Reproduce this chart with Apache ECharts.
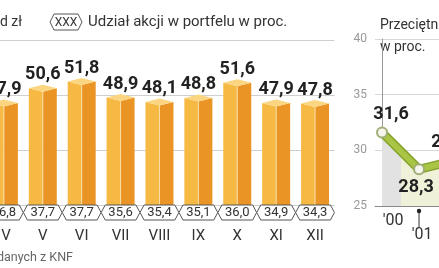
<!DOCTYPE html>
<html><head><meta charset="utf-8">
<script src="https://cdn.jsdelivr.net/npm/echarts@6/dist/echarts.min.js"></script>
<style>html,body{margin:0;padding:0;background:#fff}#c{width:439px;height:268px}</style>
</head><body><div id="c"></div>
<script>
// Left chart: monthly data
var months = ['IV','V','VI','VII','VIII','IX','X','XI','XII'];
var assets = [47.9, 50.6, 51.8, 48.9, 48.1, 48.8, 51.6, 47.9, 47.8];
var shares = [36.8, 37.7, 37.7, 35.6, 35.4, 35.1, 36.0, 34.9, 34.3];
// Right chart: yearly data
var years = ["'00", "'01", "'02"];
var yearVals = [31.6, 28.3, 29.1];
var leftTicks = [30, 40, 50, 60];
var rightTicks = [25, 30, 35, 40];

function fmt(v){ return v.toFixed(1).replace('.', ','); }
var FONT = 'Roboto, "Liberation Sans", sans-serif';

function hexPath(cx, cy, hw, hh, tip){
  return [[cx-hw, cy],[cx-hw+tip, cy-hh],[cx+hw-tip, cy-hh],[cx+hw, cy],[cx+hw-tip, cy+hh],[cx-hw+tip, cy+hh]];
}

var chart = echarts.init(document.getElementById('c'), null, {renderer:'canvas'});

var option = {
  animation: false,
  grid: [
    {left: 0, top: 40, width: 334.5, height: 165},
    {left: 375, top: 39, width: 64, height: 167}
  ],
  xAxis: [
    {gridIndex:0, type:'value', min:-0.1, max:8.5,
     axisLine:{show:false}, axisTick:{show:false}, axisLabel:{show:false}, splitLine:{show:false}},
    {gridIndex:1, type:'value', min:-0.19, max:1.54,
     axisLine:{show:true, lineStyle:{color:'#888', width:1}}, axisTick:{show:false},
     axisLabel:{show:false}, splitLine:{show:false}}
  ],
  yAxis: [
    {gridIndex:0, type:'value', min:leftTicks[0], max:leftTicks[leftTicks.length-1], interval:10,
     axisLine:{show:false}, axisTick:{show:false}, axisLabel:{show:false},
     splitLine:{lineStyle:{color:'#cfcfcf', width:1}}},
    {gridIndex:1, type:'value', min:rightTicks[0], max:rightTicks[rightTicks.length-1], interval:5,
     axisLine:{show:true, lineStyle:{color:'#999', width:1}}, axisTick:{show:false},
     axisLabel:{color:'#999', fontSize:12, fontFamily:FONT, margin:8},
     splitLine:{lineStyle:{color:'#d8d8d8', width:1}}}
  ],
  series: [
    // 3D bars
    {type:'custom', xAxisIndex:0, yAxisIndex:0, clip:false,
     data: assets.map(function(v,i){return [i, v];}),
     renderItem: function(params, api){
       var top = api.coord([api.value(0), api.value(1)]);
       var base = api.coord([api.value(0), leftTicks[0]]);
       var xm = top[0], yv = top[1], yb = base[1] + 1, hw = 14, d = 3.5;
       return {type:'group', children:[
         {type:'polygon', shape:{points:[[xm-hw, yv-d],[xm, yv],[xm, yb],[xm-hw, yb]]}, style:{fill:'#f6b944'}},
         {type:'polygon', shape:{points:[[xm, yv],[xm+hw, yv-d],[xm+hw, yb],[xm, yb]]}, style:{fill:'#ea9426'}},
         {type:'line', shape:{x1:xm, y1:yv, x2:xm, y2:yb}, style:{stroke:'#fbe0a8', lineWidth:1}},
         {type:'polygon', shape:{points:[[xm-hw, yv-d],[xm, yv-2*d],[xm+hw, yv-d],[xm, yv]]}, style:{fill:'#fbd57f'}},
         {type:'text', x: xm, y: yv - 2*d - 1, style:{text: fmt(api.value(1)), fill:'#222', font:'bold 18px ' + FONT, align:'center', verticalAlign:'bottom'}}
       ]};
     }},
    // hex labels for share + month labels
    {type:'custom', xAxisIndex:0, yAxisIndex:0, z:5, clip:false,
     data: shares.map(function(v,i){return [i, v];}),
     renderItem: function(params, api){
       var base = api.coord([api.value(0), leftTicks[0]]);
       var cx = base[0], cy = base[1] + 7.5;
       return {type:'group', children:[
         {type:'polygon', shape:{points: hexPath(cx, cy, 19.4, 7.5, 4)}, style:{fill:'#fff', stroke:'#555', lineWidth:1}},
         {type:'text', x: cx, y: cy + 0.5, style:{text: fmt(api.value(1)), fill:'#333', font:'13px ' + FONT, align:'center', verticalAlign:'middle'}},
         {type:'text', x: cx, y: base[1] + 31, style:{text: months[params.dataIndex], fill:'#333', font:'15px ' + FONT, align:'center', verticalAlign:'middle'}}
       ]};
     }},
    // right chart: outline line with area
    {type:'line', xAxisIndex:1, yAxisIndex:1, clip:true, symbol:'none', z:2,
     data: yearVals.map(function(v,i){return [i, v];}),
     lineStyle:{color:'#86a32d', width:9},
     areaStyle:{origin:'start', opacity:1, color:{type:'linear', global:true, x:375, y:0, x2:439, y2:0,
       colorStops:[{offset:0,color:'#e2e2e2'},{offset:0.4,color:'#e2e2e2'},{offset:0.4,color:'#eff1d9'},{offset:1,color:'#eff1d9'}]}}},
    // right chart: main line
    {type:'line', xAxisIndex:1, yAxisIndex:1, clip:true, z:3,
     data: yearVals.map(function(v,i){return [i, v];}),
     symbol:'circle', symbolSize:10,
     itemStyle:{color:'#f6f6ee', borderColor:'#9fae76', borderWidth:2},
     lineStyle:{color:'#a8c545', width:6}},
    // right chart: value labels and year labels
    {type:'custom', xAxisIndex:1, yAxisIndex:1, clip:false, z:6,
     data: yearVals.map(function(v,i){return [i, v];}),
     renderItem: function(params, api){
       var i = params.dataIndex;
       var p = api.coord([api.value(0), api.value(1)]);
       var b = api.coord([api.value(0), rightTicks[0]]);
       var below = (i % 2 === 1);
       var dx = [9, -3, -7][i] || 0;
       var children = [
         {type:'text', x: p[0] + dx, y: below ? p[1] + 9 : p[1] - 9,
          style:{text: fmt(api.value(1)), fill:'#222', font:'bold 18px ' + FONT, align:'center', verticalAlign: below ? 'top' : 'bottom'}}
       ];
       if (below) {
         children.push({type:'line', shape:{x1:b[0], y1:b[1]+5, x2:b[0], y2:b[1]+21}, style:{stroke:'#333', lineWidth:1}});
         children.push({type:'circle', shape:{cx:b[0], cy:b[1]+5, r:2.2}, style:{fill:'#222'}});
         children.push({type:'text', x:b[0]+3, y:b[1]+29, style:{text: years[i], fill:'#333', font:'16px ' + FONT, align:'center', verticalAlign:'middle'}});
       } else {
         children.push({type:'text', x:b[0]+11, y:b[1]+15, style:{text: years[i], fill:'#333', font:'16px ' + FONT, align:'center', verticalAlign:'middle'}});
       }
       return {type:'group', children: children};
     }}
  ],
  graphic: [
    {type:'text', x: 22, y: 22, style:{text:'w mld zł', fill:'#333', font:'14px ' + FONT, align:'right', verticalAlign:'middle'}},
    {type:'polygon', shape:{points: hexPath(66, 22, 16, 8, 4)}, style:{fill:'#fff', stroke:'#555', lineWidth:1}},
    {type:'text', x: 66, y: 22.5, style:{text:'XXX', fill:'#333', font:'12px ' + FONT, align:'center', verticalAlign:'middle'}},
    {type:'text', x: 88, y: 22, style:{text:'Udział akcji w portfelu w proc.', fill:'#333', font:'15px ' + FONT, align:'left', verticalAlign:'middle'}},
    {type:'text', x: 380, y: 25, style:{text:'Przeciętna stopa', fill:'#333', font:'14px ' + FONT, align:'left', verticalAlign:'middle'}},
    {type:'text', x: 380, y: 47, style:{text:'w proc.', fill:'#333', font:'14px ' + FONT, align:'left', verticalAlign:'middle'}},
    {type:'text', x: 73, y: 258, style:{text:'Źródło: na podstawie danych z KNF', fill:'#666', font:'12.5px ' + FONT, align:'right', verticalAlign:'middle'}}
  ]
};
chart.setOption(option);
</script>
</body></html>
